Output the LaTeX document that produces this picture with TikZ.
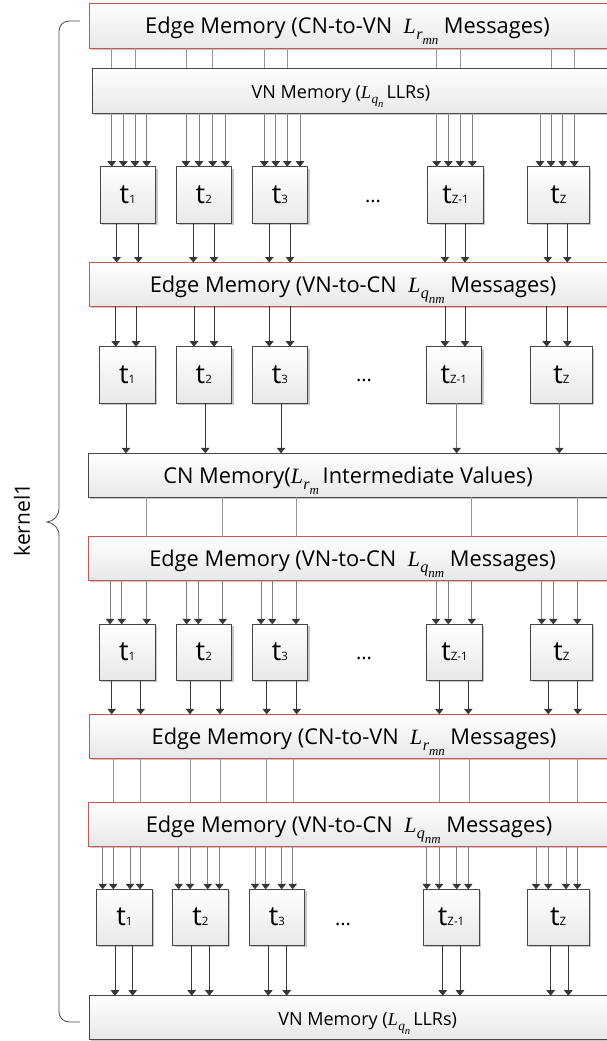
\documentclass[tikz,border=0pt]{standalone}
\usepackage{fontspec}
\setmainfont{Open Sans}
\newfontfamily\mserif{Liberation Serif}
\usetikzlibrary{arrows.meta,shadows}
\definecolor{memred}{RGB}{200,85,80}
\definecolor{bdark}{RGB}{70,70,70}
\definecolor{lgray}{RGB}{150,150,150}
\definecolor{adark}{RGB}{55,55,55}
\newcommand\tlab[1]{t{\fontsize{11.5}{12}\selectfont #1}}
\newcommand\Lsub[2]{{\mserif\itshape L\kern0.5pt\raisebox{-0.28em}{\scalebox{0.74}{#1\raisebox{-0.3em}{\scalebox{0.8}{#2}}}}}}
\newcommand\vconn[6]{%
  \foreach \X in {#6}{\draw[#1] ([xshift=\X-#3]#2.south west) -- ([xshift=\X-#5]#4.north west);}}
\tikzset{
  x=1pt, y=-1pt,
  box/.style={rectangle, anchor=north west, inner sep=0pt, outer sep=0pt,
    top color=white, bottom color=black!9, line width=0.8pt,
    drop shadow={shadow xshift=2pt, shadow yshift=-2pt, fill=black, opacity=0.22}},
  edgemem/.style={box, draw=memred, minimum width=531, minimum height=44},
  grymem/.style={box, draw=bdark, minimum width=531, minimum height=44},
  tbox/.style={box, draw=bdark, minimum width=55.6, minimum height=56.4,
    font=\fontsize{27}{27}\selectfont},
  tboxz/.style={tbox, minimum width=61.6},
  memtext/.style={anchor=base, inner sep=0pt, font=\fontsize{21.8}{22}\selectfont},
  vntext/.style={anchor=base, inner sep=0pt, font=\fontsize{18}{18}\selectfont},
  dots/.style={anchor=base, inner sep=0pt, font=\fontsize{20}{20}\selectfont},
  plainline/.style={draw=lgray, line width=0.8pt},
  arrin/.style={draw=lgray!85!black, line width=0.8pt, -{Triangle[width=8.5pt,length=5.5pt,color=adark]}},
  arrout/.style={draw=adark, line width=0.8pt, -{Triangle[width=8.5pt,length=5.5pt,color=adark]}},
  bracestyle/.style={draw=black!70, line width=0.8pt},
}
\begin{document}
\begin{tikzpicture}
\useasboundingbox (0,0) rectangle (606,1041);

% memory boxes
\node[edgemem, minimum height=45] (E1) at (89,3) {};
\node[grymem, minimum height=45, minimum width=528] (V1) at (92,68) {};
\node[edgemem, minimum height=43.5] (E2) at (89.3,262.5) {};
\node[grymem] (CN) at (88.3,453.3) {};
\node[edgemem, minimum height=43.3] (E3) at (88.3,536.7) {};
\node[edgemem] (E4) at (89,714.3) {};
\node[edgemem, minimum height=43.7] (E5) at (88.3,802.3) {};
\node[grymem, minimum height=43.6] (V2) at (89.3,995.7) {};

\node[memtext] (E1t) at ([xshift=258.5,yshift=-8]E1.west) {Edge Memory (CN-to-VN~ \Lsub{r}{mn} Messages)};
\node[vntext] (V1t) at ([xshift=249,yshift=-8]V1.west) {VN Memory (\Lsub{q}{n}\,LLRs)};
\node[memtext] (E2t) at ([xshift=263.7,yshift=-8]E2.west) {Edge Memory (VN-to-CN~ \Lsub{q}{nm} Messages)};
\node[memtext] (CNt) at ([xshift=259.7,yshift=-8]CN.west) {CN Memory(\Lsub{r}{m}\,Intermediate Values)};
\node[memtext] (E3t) at ([xshift=264.2,yshift=-8]E3.west) {Edge Memory (VN-to-CN~ \Lsub{q}{nm} Messages)};
\node[memtext] (E4t) at ([xshift=265,yshift=-8]E4.west) {Edge Memory (CN-to-VN~ \Lsub{r}{mn} Messages)};
\node[memtext] (E5t) at ([xshift=260.7,yshift=-8]E5.west) {Edge Memory (VN-to-CN~ \Lsub{q}{nm} Messages)};
\node[vntext] (V2t) at ([xshift=278.4,yshift=-8]V2.west) {VN Memory (\Lsub{q}{n}\,LLRs)};

% row 1
\node[tbox] (t11) at (100,166.7) {\tlab{1}};
\node[tbox] (t12) at (176,166.7) {\tlab{2}};
\node[tbox] (t13) at (252,166.7) {\tlab{3}};
\node[tbox] (t14) at (427.7,166.7) {\tlab{Z-1}};
\node[tboxz] (t15) at (527.7,166.7) {\tlab{Z}};
\node[dots] (d1) at (373,202) {...};
% row 2
\node[tbox] (t21) at (99.3,346.7) {\tlab{1}};
\node[tbox] (t22) at (176,346.7) {\tlab{2}};
\node[tbox] (t23) at (252,346.7) {\tlab{3}};
\node[tbox] (t24) at (426,346.7) {\tlab{Z-1}};
\node[tboxz] (t25) at (530.7,346.7) {\tlab{Z}};
\node[dots] (d2) at (364,381) {...};
% row 3
\node[tbox, minimum height=55.7] (t31) at (99.3,624.3) {\tlab{1}};
\node[tbox, minimum height=55.7] (t32) at (176,624.3) {\tlab{2}};
\node[tbox, minimum height=55.7] (t33) at (252,624.3) {\tlab{3}};
\node[tbox, minimum height=55.7] (t34) at (426.7,624.3) {\tlab{Z-1}};
\node[tboxz, minimum height=55.7] (t35) at (530.7,624.3) {\tlab{Z}};
\node[dots] (d3) at (364,659) {...};
% row 4
\node[tbox, minimum height=55.7] (t41) at (96.7,889.3) {\tlab{1}};
\node[tbox, minimum height=55.7] (t42) at (172.7,889.3) {\tlab{2}};
\node[tbox, minimum height=55.7] (t43) at (249,889.3) {\tlab{3}};
\node[tbox, minimum height=55.7] (t44) at (423.3,889.3) {\tlab{Z-1}};
\node[tboxz, minimum height=55.7] (t45) at (527.3,889.3) {\tlab{Z}};
\node[dots] (d4) at (343,925) {...};

% E1 -> V1 plain lines
\vconn{plainline}{E1}{89}{V1}{92}{111.7,135,186.7,212.7,264.3,287.3,436.7,460,551,574.3}
% V1 -> row 1
\vconn{arrin}{V1}{92}{t11}{100}{111.7,123.3,135,146.7}
\vconn{arrin}{V1}{92}{t12}{176}{186,199,212.7,225.3}
\vconn{arrin}{V1}{92}{t13}{252}{264.3,275.7,287.3,300}
\vconn{arrin}{V1}{92}{t14}{427.7}{436.7,448.3,460,472.3}
\vconn{arrin}{V1}{92}{t15}{527.7}{540,551,562.7,574.3}
% row 1 -> E2
\vconn{arrout}{t11}{100}{E2}{89.3}{116.7,138.3}
\vconn{arrout}{t12}{176}{E2}{89.3}{193.3,214}
\vconn{arrout}{t13}{252}{E2}{89.3}{269.3,290}
\vconn{arrout}{t14}{427.7}{E2}{89.3}{445,465}
\vconn{arrout}{t15}{527.7}{E2}{89.3}{547.7,567.3}
% E2 -> row 2
\vconn{arrout}{E2}{89.3}{t21}{99.3}{115.7,136}
\vconn{arrout}{E2}{89.3}{t22}{176}{194,214}
\vconn{arrout}{E2}{89.3}{t23}{252}{269.3,290}
\vconn{arrout}{E2}{89.3}{t24}{426}{445,465}
\vconn{arrout}{E2}{89.3}{t25}{530.7}{546.7,567.3}
% row 2 -> CN
\vconn{arrout}{t21}{99.3}{CN}{88.3}{126}
\vconn{arrout}{t22}{176}{CN}{88.3}{205.3}
\vconn{arrout}{t23}{252}{CN}{88.3}{281}
\vconn{arrin}{t24}{426}{CN}{88.3}{456.7}
\vconn{arrin}{t25}{530.7}{CN}{88.3}{559.3}
% CN -> E3 plain
\vconn{plainline}{CN}{88.3}{E3}{88.3}{146,222.7,296,471.7,577.7}
% E3 -> row 3
\vconn{arrin}{E3}{88.3}{t31}{99.3}{110,121.7,146.7}
\vconn{arrin}{E3}{88.3}{t32}{176}{186.7,198.3,222.7}
\vconn{arrin}{E3}{88.3}{t33}{252}{261,272.3,296}
\vconn{arrin}{E3}{88.3}{t34}{426.7}{436,448.3,471.7}
\vconn{arrin}{E3}{88.3}{t35}{530.7}{541.7,553.3,577.3}
% row 3 -> E4
\vconn{arrout}{t31}{99.3}{E4}{89}{111.7,140.7}
\vconn{arrout}{t32}{176}{E4}{89}{190,220}
\vconn{arrout}{t33}{252}{E4}{89}{266.7,296.7}
\vconn{arrout}{t34}{426.7}{E4}{89}{439.3,468.3}
\vconn{arrout}{t35}{530.7}{E4}{89}{548.3,577.7}
% E4 -> E5 plain
\vconn{plainline}{E4}{89}{E5}{88.3}{113.3,140.7,190.7,220,266,293.3,439.3,469.3,549,577.7}
% E5 -> row 4
\vconn{arrin}{E5}{88.3}{t41}{96.7}{102.7,113.3,130,140}
\vconn{arrin}{E5}{88.3}{t42}{172.7}{178.7,190,207.7,219.3}
\vconn{arrin}{E5}{88.3}{t43}{249}{255,265.7,281.7,292.7}
\vconn{arrin}{E5}{88.3}{t44}{423.3}{426.7,439,456.7,468.3}
\vconn{arrin}{E5}{88.3}{t45}{527.3}{536,548.3,566,577.3}
% row 4 -> V2
\vconn{arrout}{t41}{96.7}{V2}{89.3}{115,132.7}
\vconn{arrout}{t42}{172.7}{V2}{89.3}{191.7,209.3}
\vconn{arrout}{t43}{249}{V2}{89.3}{268.3,286.7}
\vconn{arrout}{t44}{423.3}{V2}{89.3}{442.7,460}
\vconn{arrout}{t45}{527.3}{V2}{89.3}{550.7,568.3}

% brace and label
\draw[bracestyle] (80,21) -- (69,21) .. controls (63.5,21) and (59,25.5) .. (59,31)
  -- (59,508) .. controls (59,516) and (54,521) .. (47,522)
  .. controls (54,523) and (59,528) .. (59,536)
  -- (59,1012) .. controls (59,1017.5) and (63.5,1022) .. (69,1022) -- (80,1022);
\node[rotate=90, inner sep=0pt, font=\fontsize{21}{21}\selectfont] (k1) at (22,520) {kernel1};
\end{tikzpicture}
\end{document}
